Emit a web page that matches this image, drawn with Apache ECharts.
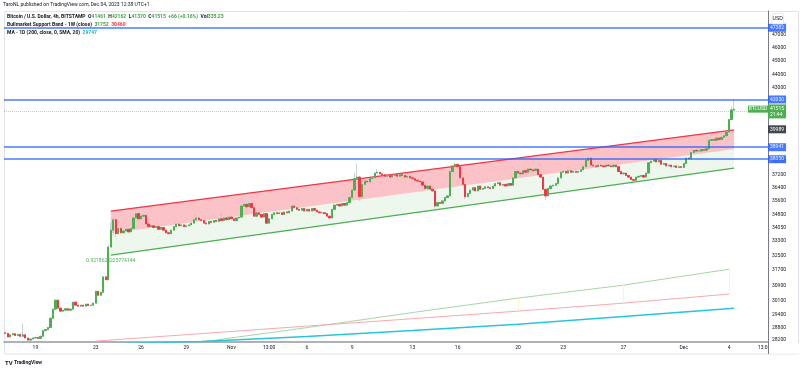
<!DOCTYPE html>
<html><head><meta charset="utf-8">
<script src="https://cdn.jsdelivr.net/npm/echarts/dist/echarts.min.js"></script>
<style>html,body{margin:0;padding:0;background:#fff}#c{width:800px;height:370px}</style>
</head><body><div id="c"></div>
<script>
// ---- data (BTCUSD 4h, Bitstamp) ----
const startUTC = Date.UTC(2023, 9, 17, 0);
const firstOpen = 28550;
const closes = [
28520,28350,28450,28500,28420,28470,
28380,28450,28300,28200,28250,28300,
28320,28280,28380,28650,28700,28800,
29250,29700,30150,29750,29600,29650,
29720,29650,29700,30050,29900,29850,
29900,29850,29950,29880,29900,30000,
30600,30400,30550,31350,31200,32950,
33900,34500,33700,34000,33750,33850,
33950,33800,34000,34600,34850,34550,
34700,34750,34250,34100,34150,34050,
34100,33950,34050,33900,33750,33700,
33900,34100,34250,34150,34200,34100,
34150,34200,34300,34500,34600,34500,
34450,34300,34250,34400,34350,34450,
34400,34550,34450,34600,34500,34650,
34550,34450,34600,34650,35300,35400,
35250,35450,35200,34700,34900,34800,
34650,34850,34300,34550,34800,34900,
34850,34900,34800,34950,34900,35000,
35300,35200,35100,35050,35150,35000,
35100,35000,35150,35050,34950,34900,
34900,34850,34700,34600,35100,35350,
35400,35300,35450,35350,35500,35800,
36250,36950,37050,35850,36600,36800,
36750,36950,37000,37300,37350,37250,
37200,37100,37150,37050,37150,37200,
37100,37200,37150,37050,37100,37000,
36950,36850,36800,36750,36550,36350,
36500,36300,36200,35300,35500,35450,
35600,35800,35900,37400,37750,37850,
37700,37000,36600,35850,36050,36250,
36400,36200,36500,36300,36350,36450,
36400,36350,36500,36650,36700,36550,
36600,36500,36650,36550,37000,37400,
37300,37250,37450,37350,37550,37500,
37450,37550,37200,37050,36300,35900,
36350,36500,36550,36650,37000,37350,
37400,37300,37450,37350,37400,37350,
37400,37500,37700,38100,38250,37800,
37750,37700,37800,37750,37700,37800,
37750,37700,37800,37700,37400,37250,
37300,37150,37050,36900,36850,37050,
37100,37150,37050,37300,37950,38050,
38150,38000,38100,37850,37900,37750,
37800,37700,37750,37650,37700,37650,
37900,38250,38200,38600,38750,38700,
38700,38800,38750,38850,39400,39450,
39400,39550,39450,39600,39700,39950,
40800,41461,41515
];
// notable wicks: bar index -> [high, low]
const wicks = {7:[29000,null],41:[33100,null],42:[34350,null],43:[34950,33600],44:[null,33500],52:[35000,null],
  95:[35550,null],96:[35750,null],139:[37300,null],140:[37900,null],141:[null,35600],148:[37550,null],
  171:[null,35150],179:[37950,null],183:[null,35700],215:[null,35650],232:[38400,null],289:[41700,null],290:[42162,41370]};
const padBars = 13;
const xTickBars   = [12, 36, 54, 72, 90, 105, 120, 138, 162, 180, 204, 222, 246, 270, 288, 302];
const xTickLabels = ['19','23','26','29','Nov','13:00','6','9','13','16','20','23','27','Dec','4','13:00'];
const yTicks = [47000,46000,45000,44000,43000,38000,37200,36400,35600,34800,34050,33300,32500,31700,30900,30100,29400,28800,28200];
const yRange = [28110, 48928];
const hLevels = [47382, 42050, 38941, 38350];
const channelLabelValue = 39989;
const lastPrice = 41515, countdown = '21:44';
const channelBars = [42, 290];
const channelUpper = [34998, 40100];
const channelLower = [32510, 37613];
const pearsonR = '0.9218625225774144';
const weekBars = [36, 78, 120, 162, 204, 246, 288];
const bandSMA  = [27400, 28110, 28794, 29530, 30255, 30917, 31752];
const bandEMA  = [28153, 28507, 28869, 29228, 29600, 30000, 30460];
const fillWeeks = [204, 246, 288];
const maBars = [36, 78, 120, 162, 204, 246, 290];
const ma200  = [28010, 28130, 28366, 28652, 28962, 29333, 29747];

// ---- build ----
const L = Math.log;
const FONT = 'Roboto, "Liberation Sans", sans-serif';
const nCats = closes.length + padBars;
const cats = [];
for (let i = 0; i < nCats; i++) cats.push(new Date(startUTC + i * 4 * 3600e3).toISOString().slice(0, 16));
const tickMap = {};
xTickBars.forEach((b, k) => tickMap[b] = xTickLabels[k]);

const ohlc = closes.map((c, i) => {
  const o = i === 0 ? firstOpen : closes[i - 1];
  let h = Math.max(o, c), l = Math.min(o, c);
  if (wicks[i]) { if (wicks[i][0]) h = wicks[i][0]; if (wicks[i][1]) l = wicks[i][1]; }
  return [i, o, c, l, h];
});
const wickData = ohlc.map(([i, o, c, l, h]) => [i, L(o), L(c), L(l), L(h)]);
const bodyData = ohlc.map(([i, o, c]) => [i, L(o), L(c), L(Math.min(o, c)), L(Math.max(o, c))]);

const UP = '#4caf50', DN = '#f23645', BLUE = '#2962ff';
const boxLabel = (txt, bg) => ({show: true, position: 'end', distance: 0, formatter: txt, color: '#fff',
  backgroundColor: bg, padding: [1, 2, 1, 2], fontSize: 5, fontFamily: FONT, lineHeight: 6});

const markData = hLevels.map(v => ({yAxis: L(v), lineStyle: {color: BLUE, width: 1.5, type: 'solid', opacity: 0.85},
  label: boxLabel(String(v), BLUE)}));
markData.push({yAxis: L(channelLabelValue), lineStyle: {color: 'transparent', width: 0}, label: boxLabel(String(channelLabelValue), '#434651')});
markData.push({yAxis: L(lastPrice), lineStyle: {color: 'rgba(76,175,80,0.45)', width: 1, type: 'dotted'},
  label: boxLabel(lastPrice + '\n' + countdown, UP)});

const halfW = channelBars.map((b, k) => (L(channelUpper[k]) - L(channelLower[k])) / 2);

const option = {
  animation: false,
  textStyle: {fontFamily: FONT},
  grid: {left: 4, right: 32, top: 11, bottom: 28},
  title: [
    {text: 'TaroNL published on TradingView.com, Dec 04, 2023 12:38 UTC+1', left: 3, top: 2, padding: 0,
      textStyle: {fontSize: 5, fontWeight: 'normal', color: '#131722', fontFamily: FONT}},
    {text: '{l|Bitcoin / U.S. Dollar, 4h, BITSTAMP}  {l|O}{g|41461}  {l|H}{g|42162}  {l|L}{g|41370}  {l|C}{g|41515}  {g|+66 (+0.16%)}  {l|Vol}{g|335.23}',
      left: 7, top: 14, padding: 0,
      textStyle: {fontSize: 5, fontFamily: FONT, rich: {l: {fontSize: 5, color: '#131722'}, g: {fontSize: 5, color: '#43a047'}}}},
    {text: '{l|Bullmarket Support Band - 1W (close)}  {g|31752}  {r|30460}', left: 7, top: 22, padding: 0,
      textStyle: {fontSize: 5, fontFamily: FONT, rich: {l: {fontSize: 5, color: '#131722'}, g: {fontSize: 5, color: '#43a047'}, r: {fontSize: 5, color: DN}}}},
    {text: '{l|MA - 1D (200, close, 0, SMA, 20)}  {c|29747}', left: 7, top: 30, padding: 0,
      textStyle: {fontSize: 5, fontFamily: FONT, rich: {l: {fontSize: 5, color: '#131722'}, c: {fontSize: 5, color: '#00bcd4'}}}},
    {text: '{b|TV} {t|TradingView}', left: 5, top: 360, padding: 0,
      textStyle: {fontSize: 5, fontFamily: FONT, rich: {b: {fontSize: 6, fontWeight: 'bold', color: '#131722'}, t: {fontSize: 5, color: '#131722'}}}}
  ],
  xAxis: {
    type: 'category', data: cats, boundaryGap: true,
    axisLine: {lineStyle: {color: '#9598a1', width: 1.5}},
    axisTick: {show: false},
    splitLine: {show: false},
    axisLabel: {
      interval: (idx) => tickMap[idx] !== undefined,
      formatter: (v, idx) => tickMap[idx] || '',
      fontSize: 5, color: '#131722', margin: 3, hideOverlap: false
    }
  },
  yAxis: {
    type: 'value', position: 'right', min: L(yRange[0]), max: L(yRange[1]),
    splitLine: {show: false},
    axisLine: {show: true, lineStyle: {color: '#787b86', width: 1}},
    axisTick: {show: false},
    axisLabel: {customValues: yTicks.map(L), formatter: v => String(Math.round(Math.exp(v))),
      fontSize: 5, color: '#131722', margin: 4}
  },
  series: [
    {type: 'line', name: 'SMA20W', data: weekBars.map((b, k) => [b, L(bandSMA[k])]), symbol: 'none',
      lineStyle: {color: '#a5d6a7', width: 1}, clip: true, z: 1,
      markLine: {silent: true, symbol: ['none', 'none'], label: {show: false},
        lineStyle: {color: '#fff3b0', width: 0.8, type: 'solid'},
        data: fillWeeks.map(b => { const k = weekBars.indexOf(b); return [{coord: [b, L(bandSMA[k])]}, {coord: [b, L(bandEMA[k])]}]; })}},
    {type: 'line', name: 'EMA21W', data: weekBars.map((b, k) => [b, L(bandEMA[k])]), symbol: 'none',
      lineStyle: {color: '#f8a9ae', width: 1}, clip: true, z: 1},
    {type: 'line', name: 'MA200D', data: maBars.map((b, k) => [b, L(ma200[k])]), symbol: 'none',
      lineStyle: {color: '#26c6da', width: 1.5}, clip: true, z: 1},
    {type: 'line', name: 'chLower', stack: 'ch', data: channelBars.map((b, k) => [b, L(channelLower[k])]), symbol: 'none',
      lineStyle: {color: UP, width: 1.3}, z: 1,
      markPoint: {silent: true, symbol: 'circle', symbolSize: 0,
        data: [{coord: [channelBars[0], L(channelLower[0])], label: {show: true, position: 'bottom', distance: 3,
          formatter: pearsonR, color: UP, fontSize: 5, fontFamily: FONT}}]}},
    {type: 'line', name: 'chMid', stack: 'ch', data: channelBars.map((b, k) => [b, halfW[k]]), symbol: 'none',
      lineStyle: {width: 0, opacity: 0}, areaStyle: {color: 'rgba(76,175,80,0.1)', opacity: 1}, z: 1},
    {type: 'line', name: 'chUpper', stack: 'ch', data: channelBars.map((b, k) => [b, halfW[k]]), symbol: 'none',
      lineStyle: {color: DN, width: 1.3}, areaStyle: {color: 'rgba(242,54,69,0.3)', opacity: 1}, z: 1},
    {type: 'candlestick', name: 'wicks', data: wickData, encode: {x: 0, y: [1, 2, 3, 4]}, barWidth: '70%',
      itemStyle: {color: '#c9d3dc', color0: '#c9d3dc', borderColor: '#c9d3dc', borderColor0: '#c9d3dc', borderWidth: 1}, z: 2},
    {type: 'candlestick', name: 'BTCUSD', data: bodyData, encode: {x: 0, y: [1, 2, 3, 4]}, barWidth: '70%',
      itemStyle: {color: UP, color0: DN, borderColor: UP, borderColor0: DN, borderWidth: 1}, z: 3,
      markLine: {silent: true, symbol: ['none', 'none'], animation: false, data: markData}}
  ],
  graphic: [
    {type: 'rect', shape: {x: 4.5, y: 11.5, width: 794, height: 342.5}, style: {fill: 'none', stroke: '#e0e3eb', lineWidth: 1}, z: -1, silent: true},
    {type: 'line', shape: {x1: 768.5, y1: 342, x2: 768.5, y2: 354}, style: {stroke: '#787b86', lineWidth: 1}, z: 100},
    {type: 'rect', shape: {x: 769, y: 343, width: 30, height: 10.5}, style: {fill: '#fff'}, z: 99},
    {type: 'rect', shape: {x: 772, y: 13.5, width: 11.5, height: 10.5, r: 1}, style: {fill: '#fff', stroke: '#e0e3eb', lineWidth: 0.8}, z: 100},
    {type: 'text', x: 777.7, y: 18.8, style: {text: 'USD', fontSize: 5, fill: '#131722', align: 'center', verticalAlign: 'middle', font: '5px ' + FONT}, z: 101}
  ]
};
const chart = echarts.init(document.getElementById('c'));
chart.setOption(option);
const py = chart.convertToPixel({gridIndex: 0}, [0, L(lastPrice)])[1];
chart.setOption({graphic: option.graphic.concat([
  {type: 'rect', shape: {x: 748, y: py - 3.5, width: 20, height: 7}, style: {fill: UP}, z: 100},
  {type: 'text', x: 758, y: py, style: {text: 'BTCUSD', fill: '#fff', align: 'center', verticalAlign: 'middle', font: '5px ' + FONT}, z: 101}
])});
</script></body></html>
